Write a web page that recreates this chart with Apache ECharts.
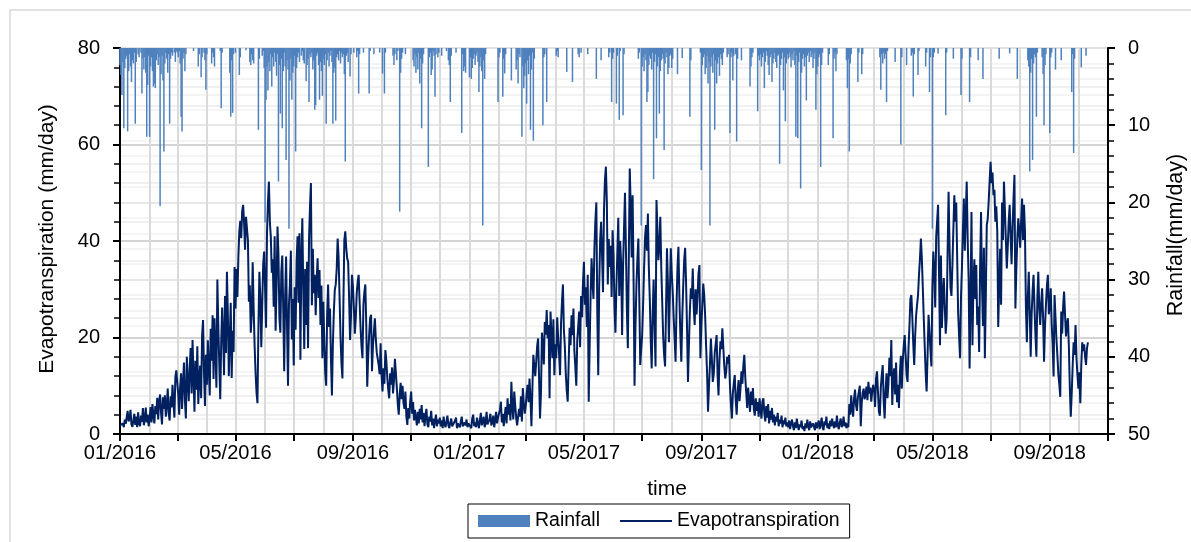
<!DOCTYPE html>
<html>
<head>
<meta charset="utf-8">
<script src="https://cdn.jsdelivr.net/npm/echarts@6/dist/echarts.min.js"></script>
<style>
  html, body { margin: 0; padding: 0; background: #ffffff; }
  #chart { width: 1191px; height: 542px; }
</style>
</head>
<body>
<div id="chart"></div>
<script>
// Daily evapotranspiration (mm/day), one row per month, starting 1 January of each year
const et2016 = [
  1.8,1.5,1.6,2.2,1.4,3.0,2.1,3.5,4.8,2.6,3.2,5.0,2.0,1.5,2.8,4.2,1.9,3.6,1.4,4.5,2.2,1.6,3.8,2.5,5.4,1.8,3.1,5.5,2.4,4.0,1.6,
  3.2,5.6,2.4,6.2,3.8,2.2,5.8,4.1,7.5,3.0,6.8,8.2,4.4,2.0,7.6,5.2,8.0,3.6,6.0,9.4,4.2,2.8,7.8,5.5,10.2,6.4,3.4,11.8,13.2,
  13.0,8.2,4.0,9.8,12.6,5.2,10.4,14.8,7.0,3.2,16.0,11.2,6.8,13.6,17.8,8.4,19.5,12.0,4.6,15.2,9.2,18.2,6.2,11.4,14.2,7.4,20.5,23.6,12.8,5.8,16.4,
  10.2,19.4,13.6,8.0,21.8,15.2,24.6,11.4,24.0,17.2,9.6,32.0,22.4,14.6,7.2,18.8,26.2,20.4,12.2,28.6,16.8,33.6,24.8,12.0,19.6,27.2,11.6,21.4,17.0,34.6,
  26.0,34.2,28.4,36.8,42.0,44.2,40.6,46.2,47.5,43.8,38.2,45.0,44.6,40.2,27.4,30.8,21.0,24.6,35.6,26.2,18.4,12.8,8.6,6.4,22.0,33.6,28.2,18.0,26.8,35.2,37.8,
  30.2,22.0,41.6,48.2,52.3,44.0,40.8,33.4,36.2,26.4,41.0,21.4,30.6,43.0,37.2,24.0,21.0,33.6,37.0,25.8,13.0,28.4,36.8,22.2,10.0,26.8,31.2,38.0,19.6,28.0,
  14.2,30.4,21.6,35.8,41.0,27.2,41.6,15.4,36.2,44.7,29.8,17.6,34.2,22.6,35.7,17.8,40.2,47.0,52.0,26.7,38.4,29.2,33.0,24.6,31.8,36.4,28.2,34.0,22.6,30.8,15.7,
  27.4,19.2,12.6,10.0,24.8,31.0,22.2,26.0,15.4,8.0,18.6,25.2,29.8,31.0,34.2,40.5,36.6,28.4,20.2,14.6,11.5,26.6,40.2,42.0,38.6,36.4,35.7,28.2,19.5,24.4,33.0,
  30.6,26.2,20.8,24.0,29.2,31.6,33.0,27.4,22.0,18.2,15.7,26.8,29.4,31.0,22.4,9.8,16.2,20.6,24.0,24.7,13.0,18.4,21.2,24.0,19.6,16.8,17.2,14.3,12.4,18.8,
  12.2,8.8,13.6,10.4,17.4,15.2,11.8,9.2,7.4,12.6,10.2,13.8,8.4,11.0,15.6,15.7,9.6,6.2,4.0,8.2,10.6,7.2,10.0,6.4,5.2,8.8,3.6,1.9,5.4,3.2,6.8,
  8.8,4.2,6.6,2.8,5.0,3.4,1.8,4.6,2.2,5.2,3.0,6.0,2.4,4.4,1.6,3.8,5.2,2.0,1.4,3.6,2.6,4.8,1.8,3.2,1.2,2.8,4.0,1.6,3.0,2.2,
  3.4,1.6,2.8,1.2,3.6,2.0,1.4,2.6,3.8,1.8,1.2,2.4,3.2,1.6,2.0,1.4,2.8,3.4,1.2,2.2,1.8,1.4,2.6,3.6,1.6,1.2,2.4,1.8,3.0,1.4,2.2
];
const et2017 = [
  1.8,2.6,1.2,3.2,4.0,1.6,2.4,1.4,3.4,2.2,1.2,2.8,4.4,1.8,2.6,3.6,1.4,2.2,4.6,2.0,1.6,3.0,4.2,1.8,2.4,3.8,1.4,2.8,4.6,2.2,3.4,
  3.2,5.0,6.7,2.4,4.2,1.6,3.8,5.6,2.2,7.4,4.0,6.2,2.8,10.8,5.4,3.0,8.8,6.0,3.4,1.8,1.4,5.2,3.6,7.8,2.6,9.5,6.4,4.2,
  5.8,8.4,10.2,6.6,11.5,7.2,1.6,9.4,16.4,14.2,12.0,15.0,18.2,19.8,11.6,3.2,8.6,21.0,18.4,14.4,23.2,20.6,25.7,19.8,22.6,7.4,25.4,20.2,15.7,23.8,12.2,
  18.6,15.7,24.2,20.0,16.4,12.2,22.8,27.4,31.0,21.6,18.2,12.4,9.0,6.7,14.6,22.0,18.4,24.6,20.5,26.0,17.2,13.8,10.0,19.4,22.2,25.4,18.0,28.6,24.2,31.4,
  35.7,26.8,30.4,22.2,33.0,6.7,18.4,28.8,36.4,31.2,28.0,38.6,44.2,48.0,25.2,12.2,30.6,40.2,44.0,36.8,29.4,46.2,52.6,55.4,48.2,31.0,40.4,34.6,39.0,28.4,42.2,
  37.0,26.2,21.0,30.4,37.6,44.8,28.6,40.0,35.2,20.5,34.8,42.6,50.0,38.4,25.6,17.8,36.2,55.0,47.2,36.6,49.5,32.0,10.0,22.4,30.8,36.2,40.5,28.2,14.3,17.6,
  20.5,26.8,34.2,40.6,43.3,38.0,45.7,34.4,28.0,19.2,13.6,24.8,32.0,22.6,14.0,48.5,42.2,36.0,38.8,45.0,34.6,27.4,20.2,16.4,14.0,26.0,38.5,31.2,19.0,28.6,38.5,
  33.2,29.5,24.2,19.8,15.0,26.4,34.6,38.8,28.4,20.6,15.0,24.2,30.6,36.0,38.6,31.4,22.0,10.8,18.6,25.8,30.2,28.0,34.3,26.4,22.6,30.0,24.8,28.6,33.2,35.0,15.7,
  22.4,26.8,31.2,28.8,24.4,18.2,12.6,4.6,9.8,14.4,19.8,15.6,10.8,12.4,16.8,18.6,20.5,12.2,8.0,15.4,19.2,17.6,21.9,18.0,14.2,11.5,12.8,16.0,14.6,16.4,
  9.8,6.2,3.2,8.4,10.6,12.2,7.0,4.0,8.6,11.2,6.8,9.4,13.0,10.4,14.2,16.4,11.8,8.6,5.4,9.6,7.2,4.6,8.8,6.0,9.5,5.2,3.8,7.4,4.8,6.6,3.6,
  7.4,5.0,3.2,6.8,7.4,4.2,2.6,5.8,3.4,6.2,2.2,4.8,3.0,5.4,2.4,4.0,1.8,3.6,2.6,4.4,1.6,3.0,2.2,3.8,1.4,2.8,2.0,3.4,1.6,2.4,
  1.4,2.8,1.0,2.2,3.0,1.6,0.8,2.4,1.2,3.2,1.8,0.8,2.0,1.4,2.8,1.0,1.6,0.6,2.2,1.2,3.0,1.6,0.8,2.6,1.4,1.0,2.2,1.8,0.8,2.4,1.2
];
const et2018 = [
  1.6,2.8,1.0,2.0,3.4,1.4,0.8,2.6,1.8,3.6,1.2,2.2,1.0,2.8,1.6,3.2,2.0,1.2,2.6,1.4,3.8,1.8,1.0,2.4,3.2,1.4,2.0,3.6,1.6,2.4,1.2,
  2.2,1.4,6.2,4.0,8.0,5.2,3.6,7.4,9.2,6.0,4.8,7.6,8.8,10.0,1.6,6.4,8.6,9.4,7.2,8.2,9.8,7.0,10.8,8.4,9.6,6.7,8.8,10.2,
  9.2,5.6,11.4,13.0,8.8,4.6,3.8,9.6,12.2,14.3,6.8,3.2,9.0,12.6,7.4,10.4,15.8,12.0,19.5,6.0,11.8,13.6,8.2,14.8,6.6,10.2,5.4,12.6,16.2,9.4,15.0,
  18.2,20.5,16.4,12.2,10.8,17.6,22.4,28.0,28.8,24.2,18.6,14.3,20.4,24.6,26.8,28.8,33.0,36.2,40.5,36.4,30.2,24.0,18.2,12.6,8.8,16.4,24.7,21.2,17.4,14.0,
  30.4,37.8,33.6,26.2,40.8,44.2,47.5,47.5,18.4,37.0,22.0,28.6,32.3,26.4,20.8,24.0,38.2,50.2,39.0,30.4,28.6,35.0,42.4,49.5,44.0,48.0,36.6,25.2,20.4,15.7,28.4,
  34.6,42.2,48.8,38.0,45.6,52.3,40.4,32.0,13.6,28.2,46.0,18.4,30.6,36.2,28.0,35.0,22.6,26.4,17.0,34.2,46.0,30.8,22.4,38.6,15.7,28.4,43.3,44.6,48.2,52.4,
  56.4,52.0,54.2,49.5,50.6,44.0,47.2,42.0,22.2,30.6,38.4,26.8,48.0,40.2,52.3,46.4,40.2,34.3,38.8,44.2,47.5,40.6,35.2,42.8,48.6,53.7,26.0,34.2,40.4,44.7,42.2,
  38.6,44.2,48.8,40.2,47.5,42.0,26.4,19.0,28.2,33.6,25.4,16.0,24.8,29.6,33.0,26.2,20.4,16.0,28.4,33.6,26.0,22.6,27.2,30.2,24.0,15.0,22.4,26.8,30.6,33.0,24.8,
  26.4,30.2,22.8,18.6,11.9,28.8,24.2,19.6,16.2,12.4,10.2,7.7,25.4,20.8,26.4,29.5,24.6,20.2,22.8,24.0,18.2,9.6,3.6,8.4,14.2,19.0,16.4,22.6,15.7,12.2,
  9.4,12.8,6.4,14.2,19.0,17.2,18.6,16.0,14.3,17.8,19.0
];

// Daily rainfall (mm/day), same calendar layout
const rain2016 = [
  2.2,3.5,6.1,1.8,10.4,2.6,1.4,1.0,10.8,3.0,0.8,2.4,4.4,1.6,2.0,0.6,9.8,1.8,0,0.8,1.2,0,0.6,5.9,1.4,2.8,1.2,3.2,11.5,4.8,1.0,
  11.5,2.4,1.2,3.0,5.0,4.6,5.2,1.6,0.8,2.2,1.2,20.5,3.4,1.0,4.2,13.4,2.0,0.6,1.4,3.2,0.8,9.8,1.4,0.6,1.0,0,0.6,1.8,0.4,
  0.6,1.2,0.4,2.0,8.9,10.8,1.4,0.6,3.0,0.8,0,0,0,0,0,0,0,0.4,0,0,0,0,2.4,0.8,0,3.8,1.2,0,0.6,1.6,5.4,
  0.8,0,0,0,0,2.0,0.6,1.2,2.4,0,0,0,0,0,0.4,7.8,0.6,0,0,0,0,0,0,0,3.2,8.9,1.6,8.4,0.8,0,
  0.6,0,0,0,3.5,1.2,0,0,0,0,0,0.3,0,0,0,1.8,2.2,0.8,1.6,2.0,0,0,0,0,10.6,1.4,0,0,1.0,0.4,2.6,
  22.6,6.7,2.4,5.5,1.8,3.0,0.8,5.0,1.2,2.4,0.6,1.8,3.6,0.8,17.3,2.2,8.5,1.4,10.4,3.0,0.6,2.4,14.5,1.6,2.8,23.4,4.2,1.4,6.7,3.2,
  2.4,1.0,13.4,2.6,1.2,0.6,1.8,0,1.0,0.4,1.6,2.0,0,4.3,2.2,1.4,7.0,0.8,1.2,0.6,2.8,1.6,8.0,7.4,1.0,0.6,2.2,6.7,1.8,3.0,6.2,
  1.4,2.2,0.8,9.8,1.6,0.6,2.4,1.0,0.4,1.8,9.8,3.2,2.6,9.4,1.2,0.8,1.6,0.4,2.0,0.6,1.2,0.8,3.4,14.7,1.0,0.6,1.8,0,3.7,0.8,0,
  0,0.6,0,0,1.2,0.4,5.9,0.8,0,0,0,0.6,0,0,0,0,0,5.9,0.4,0,0,0,0.8,0,0,0,0,0,0.6,0,
  0,3.3,0,5.9,0.6,0,0,0,0,0,0,0,1.0,2.2,0.8,0,1.6,0.4,0,21.2,3.2,1.4,0.6,0,0,0.8,0,0,0,0,0,
  0,0,1.6,2.4,0.8,3.2,1.2,2.8,0.6,4.6,1.4,10.4,2.0,0.8,0,0,0,0,15.4,1.2,0.6,3.5,2.8,0.4,1.0,6.3,0.8,0,1.2,0.6,
  0,0,1.0,0,0,0,0,0.4,0,1.6,2.2,7.0,1.0,0,0,0,0,0.6,0,0,0,0,0,11.0,0.8,3.0,2.4,3.2,0,0,0
];
const rain2017 = [
  3.8,1.2,4.0,2.6,1.4,0.8,2.2,1.0,0.6,1.8,5.7,2.4,1.2,3.0,23.0,1.6,4.0,0.8,0,0,0,0,0,0,0,0,0,0,0,0,7.0,
  1.2,0.6,0,0,6.3,1.4,3.3,0.8,0,0,0,0,0,4.2,0,0,0,0,2.8,1.6,4.6,0.8,1.2,0,11.5,2.4,5.2,3.6,
  2.0,7.2,1.6,3.4,1.0,10.6,2.8,0.6,12.0,1.4,0,0,0,0,0,0,0,0,10.0,1.2,0.8,0,7.0,0,0,0,0,0,0,0,0,
  0,1.0,0.4,1.2,0,0,0,0,0,0,0,0,3.1,0,0,0,0,0,4.4,0,0,0,0,0,0.8,1.2,0,0.6,0,0,
  0,0,0,0,0.8,0,0,0,0,0,0,0,0,4.0,0,0,0,0,1.6,0,0,0,0,0,0,0,1.2,0.6,0,7.0,1.4,
  0.6,0,0,7.2,1.0,0,9.3,0.4,0,0,8.7,0.8,0,0,0,0,0,0,0,0,0,0,0,0,0,0,1.4,0.6,0,23.0,
  2.4,1.2,3.0,0.8,1.6,7.0,5.7,2.2,1.0,1.4,2.8,0.6,17.0,1.8,0.8,11.7,2.4,1.2,8.5,3.0,1.6,0.8,1.4,13.2,2.0,0.6,1.2,3.4,2.6,1.0,0.8,
  2.6,1.4,0,0,0,0,3.4,0,0,0,0,1.3,0,0,0,0,0,0,0,8.9,1.6,0,0,0,0,0,0,0,0,0,0.6,
  15.8,2.2,1.2,0.8,3.4,2.6,1.0,4.6,1.8,23.0,2.4,1.2,3.2,0.8,10.6,1.6,4.6,2.0,1.2,3.6,0.8,1.4,2.2,0.6,0,0,0,1.2,0.8,0,
  11.0,1.2,0.6,4.2,1.0,0,0.8,12.1,1.4,0,0,0,1.6,0,0,0,0,0,0,0,0,5.0,2.4,1.2,0.6,0,0,0,0,8.2,1.0,
  1.6,0.8,2.4,1.2,0.6,5.2,1.8,0.4,1.0,2.2,3.5,1.2,0.8,4.4,2.0,1.4,0.6,1.8,2.6,1.0,0.8,15.0,2.2,1.4,0.6,5.5,1.2,9.5,2.0,0.8,
  1.4,0.6,1.2,2.5,0.8,1.6,0.4,2.2,11.5,1.0,11.7,1.8,0.6,18.2,3.2,1.4,0.8,2.4,1.2,6.8,1.0,0.6,1.8,0.4,1.2,0.8,2.6,1.4,0.6,8.0,3.4
];
const rain2018 = [
  2.4,1.2,0.8,15.4,2.2,0.6,0,0,0,0,0,2.2,0.8,0,0,0,11.7,1.4,0.6,3.0,0.8,0,0,0,0,0,0,0,0,0,1.6,
  5.2,1.4,13.4,2.0,0.8,0,0,0,0,0,0,4.4,0.6,0,0,3.4,0.8,0,0,0,0,0,0,0,0,0,0,0,
  0,0,0,0,0,0,1.2,5.4,0.8,2.0,0.6,1.4,0.8,7.0,0.4,0,0,0,0,0,0,0,1.8,0,0,0,0,0,12.5,1.2,0,
  0,0,0,2.2,0,0,0,0,1.0,0.6,6.3,0.8,0,0,0,3.5,0.4,0,0,0,0,0,0,2.4,0.6,0,0,5.7,1.2,0,
  23.4,1.2,0.6,0,0,0,0.7,0,0,0,0,0,0,0,8.7,0.6,0,0,0,0,0,0,1.4,0,0,0,0,0,0,0,6.1,
  1.4,0,0,0,0,0,0,0,7.0,1.2,0,0,0,0,0,0,0,1.6,0,0,0,0,4.0,0,0,0,0,0,0,0,
  0,0,0,0,0,0,0,0,0,1.4,0,0,0,0,0,0,0,0,0,0,0.7,0,0,0,0,0,0,0,4.0,0,0,
  0,0,0,0,0,0,0,0,1.6,2.4,16.0,3.2,1.4,14.5,2.0,0.8,1.2,8.9,0.6,0,0,0,0,1.2,3.4,10.0,2.2,0.8,0,0,0,
  11.0,1.2,0.6,0,0,0,2.8,0,0,0,0,0,1.6,0,0,0,0,0,0,0,0,0,0,5.7,0.8,13.6,1.4,0,0,0,
  0,0,0,2.5,0,0,0,0,1.0
];

// Time span of the x axis and the months that carry ticks / labels
const startDate = '2016-01-01';
const endDate = '2018-11-01';
const tickMonths = [1, 3, 5, 7, 9, 11];
const labelMonths = [1, 5, 9];

// One category per calendar day
const days = [];
for (let t = Date.parse(startDate + 'T00:00:00Z'); t <= Date.parse(endDate + 'T00:00:00Z'); t += 86400000) {
  days.push(new Date(t).toISOString().slice(0, 10));
}
const etSeries = et2016.concat(et2017, et2018);
const rainSeries = rain2016.concat(rain2017, rain2018);

const isFirst = v => v.slice(8, 10) === '01';
const monthOf = v => parseInt(v.slice(5, 7), 10);

const FONT = '"Liberation Sans", Arial, sans-serif';
const ET_COLOR = '#00205f';
const chart = echarts.init(document.getElementById('chart'), null, { renderer: 'canvas' });

chart.setOption({
  animation: false,
  backgroundColor: '#ffffff',
  textStyle: { fontFamily: FONT, color: '#000' },
  grid: { left: 120, right: 83, top: 48, bottom: 108, containLabel: false },
  legend: {
    left: 468, top: 504,
    orient: 'horizontal',
    borderColor: '#000', borderWidth: 1,
    padding: [7, 10, 7, 10],
    itemGap: 20, itemWidth: 52, itemHeight: 12,
    symbolKeepAspect: true,
    textStyle: { fontSize: 19.5, color: '#000', fontFamily: FONT },
    data: [
      { name: 'Rainfall', icon: 'rect' },
      { name: 'Evapotranspiration', icon: 'path://M0,0L52,0L52,2L0,2Z', itemStyle: { color: ET_COLOR } }
    ]
  },
  xAxis: {
    type: 'category',
    data: days,
    boundaryGap: false,
    axisLine: { show: true, lineStyle: { color: '#000', width: 2 } },
    axisTick: {
      show: true, length: 7, inside: false,
      lineStyle: { color: '#000', width: 2 },
      interval: (i, v) => isFirst(v) && tickMonths.includes(monthOf(v))
    },
    axisLabel: {
      margin: 9, fontSize: 20, color: '#000', fontFamily: FONT,
      interval: (i, v) => isFirst(v) && labelMonths.includes(monthOf(v)),
      formatter: v => v.slice(5, 7) + '/' + v.slice(0, 4)
    },
    splitLine: {
      show: true,
      interval: (i, v) => isFirst(v),
      lineStyle: { color: '#dadada', width: 2 }
    }
  },
  yAxis: [
    {
      type: 'value', min: 0, max: 80, interval: 20, position: 'left',
      axisLine: { show: true, lineStyle: { color: '#000', width: 2 } },
      axisTick: { show: true, length: 7, lineStyle: { color: '#000', width: 2 } },
      minorTick: { show: true, splitNumber: 5, length: 6, lineStyle: { color: '#000', width: 1.5 } },
      axisLabel: { margin: 20, fontSize: 20, color: '#000', fontFamily: FONT },
      splitLine: { show: true, lineStyle: { color: '#d4d4d4', width: 2 } },
      minorSplitLine: { show: true, lineStyle: { color: '#ebebeb', width: 1.5 } }
    },
    {
      type: 'value', min: 0, max: 50, interval: 10, position: 'right', inverse: true,
      axisLine: { show: true, lineStyle: { color: '#000', width: 2 } },
      axisTick: { show: true, length: 7, lineStyle: { color: '#000', width: 2 } },
      minorTick: { show: true, splitNumber: 5, length: 6, lineStyle: { color: '#000', width: 1.5 } },
      axisLabel: { margin: 20, fontSize: 20, color: '#000', fontFamily: FONT },
      splitLine: { show: true, lineStyle: { color: '#e4e4e4', width: 1.5 } },
      minorSplitLine: { show: true, lineStyle: { color: '#f1f1f1', width: 1.5 } }
    }
  ],
  series: [
    {
      name: 'Rainfall',
      type: 'bar',
      yAxisIndex: 1,
      data: rainSeries,
      barWidth: 1.5,
      itemStyle: { color: '#4f81bd' },
      z: 2
    },
    {
      name: 'Evapotranspiration',
      type: 'line',
      yAxisIndex: 0,
      data: etSeries,
      symbol: 'none',
      showSymbol: false,
      sampling: null,
      lineStyle: { color: ET_COLOR, width: 2 },
      itemStyle: { color: ET_COLOR },
      z: 3
    }
  ],
  graphic: [
    {
      type: 'rect', silent: true, z: -10,
      shape: { x: 10, y: 10, width: 1200, height: 560 },
      style: { fill: 'none', stroke: '#d9d9d9', lineWidth: 1.5 }
    },
    {
      type: 'text', x: 47, y: 239, rotation: Math.PI / 2,
      style: { text: 'Evapotranspiration (mm/day)', font: '21px ' + FONT, fill: '#000', textAlign: 'center', textVerticalAlign: 'middle' }
    },
    {
      type: 'text', x: 1176, y: 235, rotation: Math.PI / 2,
      style: { text: 'Rainfall(mm/day)', font: '21.5px ' + FONT, fill: '#000', textAlign: 'center', textVerticalAlign: 'middle' }
    },
    {
      type: 'text', x: 667, y: 489,
      style: { text: 'time', font: '21px ' + FONT, fill: '#000', textAlign: 'center', textVerticalAlign: 'middle' }
    }
  ]
});
</script>
</body>
</html>
